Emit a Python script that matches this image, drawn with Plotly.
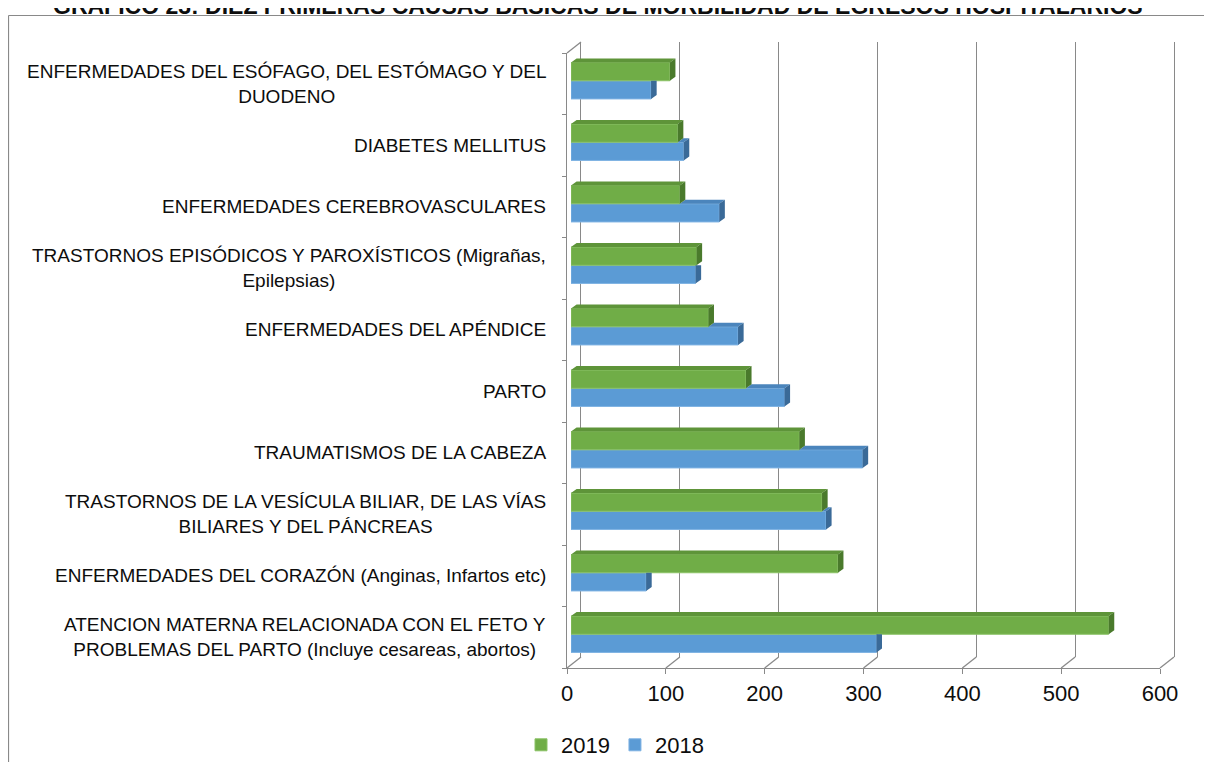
import plotly.graph_objects as go

# categorias de arriba hacia abajo, como en el grafico
CATEGORIAS = [
    "ENFERMEDADES DEL ESÓFAGO, DEL ESTÓMAGO Y DEL<br>DUODENO",
    "DIABETES MELLITUS",
    "ENFERMEDADES CEREBROVASCULARES",
    "TRASTORNOS EPISÓDICOS Y PAROXÍSTICOS (Migrañas,<br>Epilepsias)",
    "ENFERMEDADES DEL APÉNDICE",
    "PARTO",
    "TRAUMATISMOS DE LA CABEZA",
    "TRASTORNOS DE LA VESÍCULA BILIAR, DE LAS VÍAS<br>BILIARES Y DEL PÁNCREAS",
    "ENFERMEDADES DEL CORAZÓN (Anginas, Infartos etc)",
    "ATENCION MATERNA RELACIONADA CON EL FETO Y<br>PROBLEMAS DEL PARTO (Incluye cesareas, abortos)",
]
EGRESOS_2019 = [100, 108, 110, 127, 139, 177, 231, 254, 270, 544]
EGRESOS_2018 = [81, 114, 150, 126, 169, 216, 295, 258, 76, 309]
TICKS_X = [0, 100, 200, 300, 400, 500, 600]

TITULO = "GRÁFICO 23: DIEZ PRIMERAS CAUSAS BÁSICAS DE MORBILIDAD DE EGRESOS HOSPITALARIOS"

# la pagina tiene margen de 8 px: la figura se ajusta para no generar scroll
PAGE_W, PAGE_H, BODY = 1212, 770, 8
W, H = PAGE_W - 2 * BODY, PAGE_H - 2 * BODY
FONT = "Liberation Sans, Arial, sans-serif"
GRIS = "#898989"
NEGRO = "#0d0d0d"

VERDE, VERDE_TOP, VERDE_LADO, VERDE_BORDE = "#70AD47", "#5E9439", "#4A7A2C", "#8BC266"
AZUL, AZUL_TOP, AZUL_LADO, AZUL_BORDE = "#5B9BD5", "#4B85BC", "#3A6A98", "#7FB3E3"

# geometria del "cubo" en pixeles de pagina
FRONT_L, FRONT_R, FRONT_T, FRONT_B = 567, 1160, 53, 668
BACK_DX, BACK_DY = 14, -11
BAR_DX, BAR_DY = 4, -3
XMAX = 600


def fx(p):
    return (p - BODY) / W


def fy(p):
    return 1 - (p - BODY) / H


n = len(CATEGORIAS)
pos = [n - 1 - k for k in range(n)]  # 0 = abajo

BAR_H = 0.296
PX_X = (FRONT_R - FRONT_L) / XMAX
DX = 5.6 / PX_X
DY = 4 / ((FRONT_B - FRONT_T) / n)

fig = go.Figure()

# pared del fondo (solo lineas de cuadricula)
fig.add_trace(go.Scatter(x=[0], y=[0], mode="none", showlegend=False,
                         hoverinfo="skip", xaxis="x", yaxis="y"))
# ejes frontales
fig.add_trace(go.Scatter(x=[0], y=[0], mode="none", showlegend=False,
                         hoverinfo="skip", xaxis="x2", yaxis="y2"))

# barras (cara frontal)
fig.add_trace(go.Bar(name="2018", x=EGRESOS_2018, y=[p - BAR_H / 2 for p in pos],
                     orientation="h", width=BAR_H,
                     marker=dict(color=AZUL, line=dict(color=AZUL_BORDE, width=1)),
                     xaxis="x3", yaxis="y3"))
fig.add_trace(go.Bar(name="2019", x=EGRESOS_2019, y=[p + BAR_H / 2 for p in pos],
                     orientation="h", width=BAR_H,
                     marker=dict(color=VERDE, line=dict(color=VERDE_BORDE, width=1)),
                     xaxis="x3", yaxis="y3"))


# caras superior y lateral de las barras
def poligonos(puntos_lista):
    xs, ys = [], []
    for pts in puntos_lista:
        for px_, py_ in pts:
            xs.append(px_)
            ys.append(py_)
        xs.append(pts[0][0])
        ys.append(pts[0][1])
        xs.append(None)
        ys.append(None)
    return xs, ys


azul_top, azul_lado, verde_top, verde_lado = [], [], [], []
for p, g, b in zip(pos, EGRESOS_2019, EGRESOS_2018):
    mid = p
    g_top = p + BAR_H
    b_bot = p - BAR_H
    verde_top.append([(0, g_top), (g, g_top), (g + DX, g_top + DY), (DX, g_top + DY)])
    verde_lado.append([(g, mid), (g, g_top), (g + DX, g_top + DY), (g + DX, mid + DY)])
    if b > g:
        azul_top.append([(g, mid), (b, mid), (b + DX, mid + DY), (g + DX, mid + DY)])
        azul_lado.append([(b, b_bot), (b, mid), (b + DX, mid + DY), (b + DX, b_bot + DY)])
    else:
        azul_lado.append([(b, b_bot), (b, mid), (b + DX, mid), (b + DX, b_bot + DY)])

for pts, col in [(azul_top, AZUL_TOP), (azul_lado, AZUL_LADO),
                 (verde_top, VERDE_TOP), (verde_lado, VERDE_LADO)]:
    xs, ys = poligonos(pts)
    fig.add_trace(go.Scatter(x=xs, y=ys, fill="toself", fillcolor=col, mode="lines",
                             line=dict(width=0, color=col), showlegend=False,
                             hoverinfo="skip", xaxis="x3", yaxis="y3"))

# diagonales del piso y esquina superior
shapes = []
for v in TICKS_X:
    x0 = FRONT_L + v * PX_X
    shapes.append(dict(type="line", xref="paper", yref="paper",
                       x0=fx(x0), y0=fy(FRONT_B), x1=fx(x0 + BACK_DX), y1=fy(FRONT_B + BACK_DY),
                       line=dict(color=GRIS, width=1.3)))
shapes.append(dict(type="line", xref="paper", yref="paper",
                   x0=fx(FRONT_L), y0=fy(FRONT_T), x1=fx(FRONT_L + BACK_DX), y1=fy(FRONT_T + BACK_DY),
                   line=dict(color=GRIS, width=1.3)))
# marco (solo borde superior e izquierdo, el resto queda fuera de la imagen)
MARCO_T, MARCO_L = 15.5, 8.5
shapes.append(dict(type="line", xref="paper", yref="paper",
                   x0=fx(MARCO_L), y0=fy(MARCO_T), x1=1, y1=fy(MARCO_T),
                   line=dict(color=GRIS, width=1.2)))
shapes.append(dict(type="line", xref="paper", yref="paper",
                   x0=fx(MARCO_L), y0=fy(MARCO_T), x1=fx(MARCO_L), y1=0,
                   line=dict(color=GRIS, width=1.2)))

# etiquetas de categoria
annotations = []
for p, cat in zip(pos, CATEGORIAS):
    annotations.append(dict(text=cat, xref="paper", yref="y2", x=fx(548), y=p + 0.5,
                            xanchor="right", yanchor="middle", align="center",
                            showarrow=False, font=dict(family=FONT, size=19, color=NEGRO)))
# titulo: solo asoma su parte inferior, como en el original
annotations.append(dict(text="<b>" + TITULO + "</b>", xref="paper", yref="paper",
                        x=fx(598), y=fy(5.1), xanchor="center", yanchor="middle",
                        showarrow=False, font=dict(family=FONT, size=23, color=NEGRO)))

fig.update_layout(
    width=W, height=H,
    autosize=False,
    margin=dict(l=0, r=0, t=0, b=0, autoexpand=False),
    paper_bgcolor="white",
    plot_bgcolor="rgba(0,0,0,0)",
    barmode="overlay",
    font=dict(family=FONT, color=NEGRO),
    shapes=shapes,
    annotations=annotations,
    xaxis=dict(domain=[fx(FRONT_L + BACK_DX), fx(FRONT_R + BACK_DX)], range=[0, XMAX],
               tickvals=TICKS_X, showgrid=True, gridcolor=GRIS, gridwidth=1.4,
               showticklabels=False, ticks="", zeroline=False, showline=False, anchor="y"),
    yaxis=dict(domain=[fy(FRONT_B + BACK_DY), fy(FRONT_T + BACK_DY)], range=[0, 1],
               showgrid=False, showticklabels=False, zeroline=False,
               showline=True, mirror=True, linecolor=GRIS, linewidth=1.4, anchor="x"),
    xaxis2=dict(domain=[fx(FRONT_L), fx(FRONT_R)], range=[0, XMAX], tickvals=TICKS_X,
                showgrid=False, zeroline=False, showline=True, linecolor=GRIS, linewidth=1.3,
                ticks="outside", ticklen=5, tickcolor=GRIS, tickwidth=1.3,
                tickfont=dict(family=FONT, size=22, color=NEGRO), anchor="y2"),
    yaxis2=dict(domain=[fy(FRONT_B), fy(FRONT_T)], range=[0, n], tickvals=list(range(n + 1)),
                showgrid=False, zeroline=False, showline=True, linecolor=GRIS, linewidth=1.3,
                ticks="outside", ticklen=4, tickcolor=GRIS, tickwidth=1.3,
                showticklabels=False, anchor="x2"),
    xaxis3=dict(domain=[fx(FRONT_L + BAR_DX), fx(FRONT_R + BAR_DX)], range=[0, XMAX],
                visible=False, anchor="y3"),
    yaxis3=dict(domain=[fy(FRONT_B + BAR_DY), fy(FRONT_T + BAR_DY)], range=[-0.5, n - 0.5],
                visible=False, anchor="x3"),
    legend=dict(orientation="h", x=fx(615), y=fy(745), xanchor="center", yanchor="middle",
                traceorder="reversed", font=dict(family=FONT, size=22, color=NEGRO),
                itemwidth=30),
    showlegend=True,
)

fig.write_html("out.html")
